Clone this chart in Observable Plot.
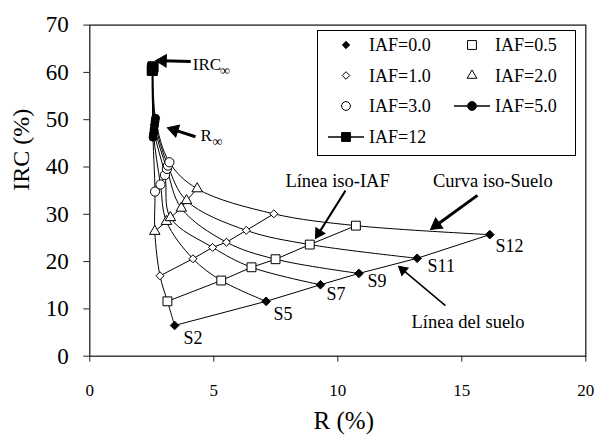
<!DOCTYPE html>
<html><head><meta charset="utf-8">
<script src="https://cdn.jsdelivr.net/npm/d3@7"></script>
<script src="https://cdn.jsdelivr.net/npm/@observablehq/plot@0.6"></script>
<style>
body{margin:0;background:#fff;}
#wrap{position:relative;width:595px;height:439px;}
</style></head><body><div id="wrap"></div>
<script>
// ---------- data ----------
const soils = ["S2", "S5", "S7", "S9", "S11", "S12"];
const iafLevels = ["0.0", "0.5", "1.0", "2.0", "3.0", "5.0", "12"];
const R_iaf00 = [3.42, 7.11, 9.30, 10.85, 13.20, 16.13];
const IRC_iaf00 = [6.5, 11.6, 15.1, 17.5, 20.7, 25.7];
const R_iaf05 = [3.13, 5.30, 6.52, 7.49, 8.87, 10.73];
const IRC_iaf05 = [11.6, 16.0, 18.8, 20.5, 23.6, 27.6];
const R_iaf10 = [2.83, 4.16, 4.95, 5.51, 6.31, 7.42];
const IRC_iaf10 = [17.0, 20.6, 23.0, 24.1, 26.6, 30.1];
const R_iaf20 = [2.62, 3.09, 3.25, 3.69, 3.90, 4.33];
const IRC_iaf20 = [26.4, 28.5, 29.3, 31.3, 32.9, 35.4];
const R_iaf30 = [2.63, 2.85, 3.03, 3.11, 3.15, 3.21];
const IRC_iaf30 = [34.8, 36.3, 38.3, 39.6, 40.3, 41.0];
const R_iaf50 = [2.55, 2.57, 2.59, 2.61, 2.63, 2.65];
const IRC_iaf50 = [46.3, 47.1, 47.9, 48.8, 49.6, 50.3];
const R_iaf12 = [2.52, 2.52, 2.53, 2.53, 2.54, 2.55];
const IRC_iaf12 = [60.4, 60.6, 60.7, 60.9, 61.0, 61.2];

const xTicks = [0, 5, 10, 15, 20];
const yTicks = [0, 10, 20, 30, 40, 50, 60, 70];

const soilLabelR = [3.78, 7.41, 9.54, 11.2, 13.62, 16.36];
const soilLabelIRC = [3.74, 8.8, 13.0, 15.8, 19.0, 23.2];

const noteText = ["Línea iso-IAF", "Curva iso-Suelo", "Línea del suelo"];
const noteR = [9.99, 16.25, 15.25];
const noteIRC = [37.1, 37.1, 7.3];

const limitText = ["IRC", "R"];
const limitR = [4.15, 4.46];
const limitIRC = [61.7, 46.6];
const limitSubR = [5.25, 4.95];

// arrows: start (R, IRC) -> tip (R, IRC)
const arrowR1 = [4.07, 4.26, 10.31, 15.63, 14.34];
const arrowIRC1 = [62.3, 46.4, 35.0, 34.0, 10.7];
const arrowR2 = [2.65, 3.13, 9.10, 13.74, 12.45];
const arrowIRC2 = [62.5, 48.3, 24.9, 26.8, 19.0];
const arrowW = [3, 3, 2, 3, 1.5];
const arrowHead = [4.6, 4.6, 4.0, 4.6, 3.6];

// ---------- build tables ----------
const Rs = [R_iaf00, R_iaf05, R_iaf10, R_iaf20, R_iaf30, R_iaf50, R_iaf12];
const IRCs = [IRC_iaf00, IRC_iaf05, IRC_iaf10, IRC_iaf20, IRC_iaf30, IRC_iaf50, IRC_iaf12];
const rows = [];
iafLevels.forEach((iaf, i) => soils.forEach((s, j) =>
  rows.push({iaf, order: i, soil: s, R: Rs[i][j], IRC: IRCs[i][j]})));

const style = {
  "0.0": {symbol: "diamond2", fill: "black", r: 3.9},
  "0.5": {symbol: "square", fill: "white", r: 5},
  "1.0": {symbol: "diamond2", fill: "white", r: 3.6},
  "2.0": {symbol: "triangle", fill: "white", r: 3.9},
  "3.0": {symbol: "circle", fill: "white", r: 4.6},
  "5.0": {symbol: "circle", fill: "black", r: 4},
  "12": {symbol: "square", fill: "black", r: 5.6}
};

const W = 595, H = 439, mL = 89.3, mR = 9.7, mT = 24.6, mB = 83.3;
const kx = (W - mL - mR) / 20, ky = (H - mT - mB) / 70;

const arrows = arrowR1.map((r1, i) => {
  const dxp = (arrowR2[i] - r1) * kx, dyp = -(arrowIRC2[i] - arrowIRC1[i]) * ky;
  const len = Math.hypot(dxp, dyp), ux = dxp / len, uy = dyp / len;
  const yy = Math.sqrt(Math.PI * arrowHead[i] ** 2 / (Math.sqrt(3) * 3));
  const back = 2 * yy;
  return {
    x1: r1, y1: arrowIRC1[i],
    x2: arrowR2[i] - ux * back / kx, y2: arrowIRC2[i] + uy * back / ky,
    w: arrowW[i], r: arrowHead[i],
    rot: Math.atan2(dxp, -dyp) * 180 / Math.PI
  };
});

const serif = "'Liberation Serif', 'Times New Roman', serif";

const marks = [
  Plot.frame({stroke: "#222", strokeWidth: 1.3}),
  Plot.axisX({ticks: xTicks, tickSize: 6, tickPadding: 22, fontSize: 17, label: null, stroke: "#222"}),
  Plot.axisY({ticks: yTicks, tickSize: 6, tickPadding: 15, fontSize: 23, label: null, stroke: "#222"}),
  Plot.text(["R (%)"], {frameAnchor: "bottom", dx: 6, dy: 65, fontSize: 25, lineAnchor: "middle"}),
  Plot.text(["IRC (%)"], {frameAnchor: "left", dx: -68, rotate: -90, fontSize: 24, lineAnchor: "middle"}),
  // iso-soil curves
  Plot.line(rows, {x: "R", y: "IRC", z: "soil", sort: "order", curve: "catmull-rom", stroke: "black", strokeWidth: 1}),
  // iso-IAF lines
  Plot.line(rows, {x: "R", y: "IRC", z: "iaf", stroke: "black", strokeWidth: 1})
];
iafLevels.forEach(iaf => {
  const s = style[iaf];
  marks.push(Plot.dot(rows.filter(d => d.iaf === iaf), {
    x: "R", y: "IRC", symbol: s.symbol, r: s.r, fill: s.fill, stroke: "black", strokeWidth: 1
  }));
});
marks.push(
  Plot.text(soils, {x: (d, i) => soilLabelR[i], y: (d, i) => soilLabelIRC[i], text: d => d, textAnchor: "start", fontSize: 18}),
  Plot.text(noteText, {x: (d, i) => noteR[i], y: (d, i) => noteIRC[i], text: d => d, fontSize: 18.5}),
  Plot.text(limitText, {x: (d, i) => limitR[i], y: (d, i) => limitIRC[i], text: d => d, textAnchor: "start", fontSize: 17}),
  Plot.text(limitText, {x: (d, i) => limitSubR[i], y: (d, i) => limitIRC[i], text: () => "∞", textAnchor: "start", fontSize: 14, dy: 6}),
  Plot.link(arrows, {x1: "x1", y1: "y1", x2: "x2", y2: "y2", stroke: "black", strokeWidth: "w"}),
  Plot.dot(arrows, {x: "x2", y: "y2", r: "r", symbol: "triangle", rotate: "rot", fill: "black", stroke: "black", strokeWidth: 1})
);

const chart = Plot.plot({
  width: W, height: H, marginLeft: mL, marginRight: mR, marginTop: mT, marginBottom: mB,
  style: {fontFamily: serif, background: "white", color: "black"},
  x: {domain: [0, 20]},
  y: {domain: [0, 70]},
  r: {type: "identity"},
  marks
});
document.getElementById("wrap").appendChild(chart);

// ---------- legend (inside plot area) ----------
const leg = d3.create("svg").attr("width", W).attr("height", H)
  .style("position", "absolute").style("left", "0px").style("top", "0px")
  .style("font-family", serif);
leg.append("rect").attr("x", 317.5).attr("y", 30.5).attr("width", 258).attr("height", 125)
  .attr("fill", "white").attr("stroke", "black").attr("stroke-width", 1);
const legendItems = [
  {iaf: "0.0", col: 0, row: 0}, {iaf: "0.5", col: 1, row: 0},
  {iaf: "1.0", col: 0, row: 1}, {iaf: "2.0", col: 1, row: 1},
  {iaf: "3.0", col: 0, row: 2}, {iaf: "5.0", col: 1, row: 2, line: true},
  {iaf: "12", col: 0, row: 3, line: true}
];
const rowY = [45, 75.5, 106, 137], markX = [346, 472], textX = [369, 495];
const symMap = {diamond2: d3.symbolDiamond2, square: d3.symbolSquare, triangle: d3.symbolTriangle, circle: d3.symbolCircle};
const legR = {"0.0": 3.3, "0.5": 5, "1.0": 3.4, "2.0": 3.6, "3.0": 4.4, "5.0": 4.4, "12": 5};
legendItems.forEach(it => {
  const s = style[it.iaf], x = markX[it.col], y = rowY[it.row];
  if (it.line) leg.append("line").attr("x1", x - 18).attr("x2", x + 18).attr("y1", y).attr("y2", y)
    .attr("stroke", "black").attr("stroke-width", 1.3);
  leg.append("path").attr("d", d3.symbol(symMap[s.symbol], Math.PI * legR[it.iaf] ** 2)())
    .attr("transform", `translate(${x},${y})`).attr("fill", s.fill).attr("stroke", "black").attr("stroke-width", 1);
  leg.append("text").attr("x", textX[it.col]).attr("y", y).attr("dy", "0.35em")
    .attr("font-size", 18).attr("fill", "black").text("IAF=" + it.iaf);
});
document.getElementById("wrap").appendChild(leg.node());
</script></body></html>
